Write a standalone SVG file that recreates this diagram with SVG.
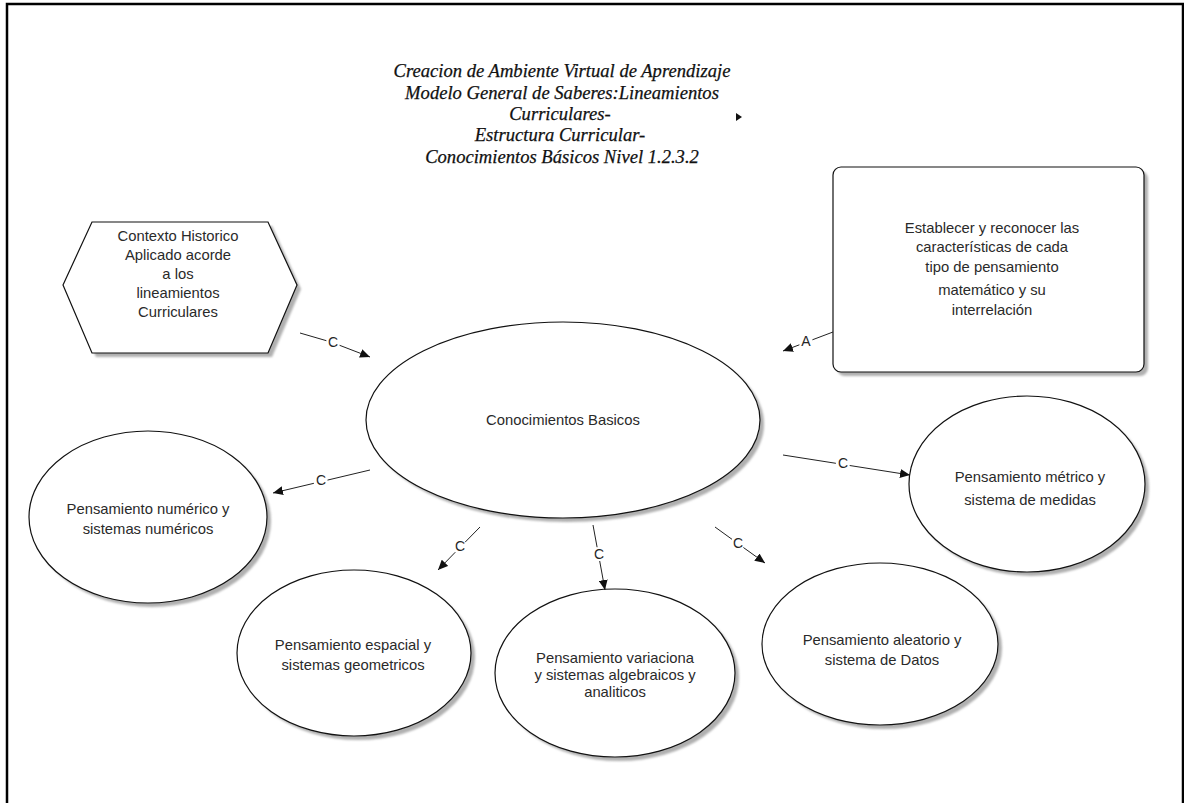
<svg xmlns="http://www.w3.org/2000/svg" width="1184" height="803" viewBox="0 0 1184 803">
  <style>
    .title { font-family: "Liberation Serif", "Times New Roman", serif; font-style: italic; font-size: 18.6px; fill: #111; stroke: #111; stroke-width: 0.25; text-anchor: middle; }
    .lbl { font-family: "Liberation Sans", Arial, sans-serif; font-size: 14.8px; fill: #2a2a2a; text-anchor: middle; }
    .clbl { font-family: "Liberation Sans", Arial, sans-serif; font-size: 14px; fill: #262626; text-anchor: middle; dominant-baseline: central; }
    .shape { fill: #ffffff; stroke: #111; stroke-width: 1.2; }
    .shadow { fill: #b0b0b0; filter: url(#soft); }
    .edge { fill: none; stroke: #222; stroke-width: 1; }
    .edge-end { fill: none; stroke: #222; stroke-width: 1; marker-end: url(#arrow); }
  </style>
  <defs>
    <filter id="soft" x="-10%" y="-10%" width="120%" height="120%">
      <feGaussianBlur stdDeviation="1.2"/>
    </filter>
    <marker id="arrow" markerUnits="userSpaceOnUse" markerWidth="11" markerHeight="9" refX="10" refY="4.5" orient="auto">
      <path d="M0,0 L10,4.5 L0,9 z" fill="#111"/>
    </marker>
  </defs>

  <rect x="0" y="0" width="1184" height="803" fill="#ffffff"/>
  <!-- page frame -->
  <rect x="7" y="4" width="1176" height="830" fill="none" stroke="#000" stroke-width="2.5"/>

  <!-- title block -->
  <g id="title">
    <text class="title" x="562" y="77">Creacion de Ambiente Virtual de Aprendizaje</text>
    <text class="title" x="562" y="99">Modelo General de Saberes:Lineamientos</text>
    <text class="title" x="560" y="120">Curriculares-</text>
    <text class="title" x="560" y="141">Estructura Curricular-</text>
    <text class="title" x="562" y="163">Conocimientos Básicos Nivel 1.2.3.2</text>
    <path d="M736,113 L742,117 L736,121 z" fill="#111"/>
  </g>

  <!-- hexagon: historical context -->
  <g id="contexto">
    <polygon class="shadow" points="96,226 272,226 301,289 272,357 96,357 67,289"/>
    <polygon class="shape" points="92,222 268,222 297,285 268,353 92,353 63,285"/>
    <text class="lbl" x="178" y="241">Contexto Historico</text>
    <text class="lbl" x="178" y="260">Aplicado acorde</text>
    <text class="lbl" x="178" y="279">a los</text>
    <text class="lbl" x="178" y="298">lineamientos</text>
    <text class="lbl" x="178" y="317">Curriculares</text>
  </g>

  <!-- rounded box: goal -->
  <g id="establecer">
    <rect class="shadow" x="837" y="171" width="311" height="205" rx="8"/>
    <rect class="shape" x="833" y="167" width="311" height="205" rx="8"/>
    <text class="lbl" x="992" y="233">Establecer y reconocer las</text>
    <text class="lbl" x="992" y="252">características de cada</text>
    <text class="lbl" x="992" y="272">tipo de pensamiento</text>
    <text class="lbl" x="992" y="295">matemático y su</text>
    <text class="lbl" x="992" y="315">interrelación</text>
  </g>

  <!-- central concept -->
  <g id="conocimientos">
    <ellipse class="shadow" cx="567" cy="424" rx="197" ry="98"/>
    <ellipse class="shape" cx="563" cy="420" rx="197" ry="98"/>
    <text class="lbl" x="563" y="425">Conocimientos Basicos</text>
  </g>

  <g id="numerico">
    <ellipse class="shadow" cx="152" cy="521" rx="119" ry="86"/>
    <ellipse class="shape" cx="148" cy="517" rx="119" ry="86"/>
    <text class="lbl" x="148" y="514">Pensamiento numérico y</text>
    <text class="lbl" x="148" y="534">sistemas numéricos</text>
  </g>

  <g id="metrico">
    <ellipse class="shadow" cx="1031" cy="488" rx="118" ry="88"/>
    <ellipse class="shape" cx="1027" cy="484" rx="118" ry="88"/>
    <text class="lbl" x="1030" y="482">Pensamiento métrico y</text>
    <text class="lbl" x="1030" y="505">sistema de medidas</text>
  </g>

  <g id="espacial">
    <ellipse class="shadow" cx="358" cy="657" rx="117" ry="83"/>
    <ellipse class="shape" cx="354" cy="653" rx="117" ry="83"/>
    <text class="lbl" x="353" y="650">Pensamiento espacial y</text>
    <text class="lbl" x="353" y="670">sistemas geometricos</text>
  </g>

  <g id="variacional">
    <ellipse class="shadow" cx="619" cy="677" rx="120" ry="84"/>
    <ellipse class="shape" cx="615" cy="673" rx="120" ry="84"/>
    <text class="lbl" x="615" y="663">Pensamiento variaciona</text>
    <text class="lbl" x="615" y="680">y sistemas algebraicos y</text>
    <text class="lbl" x="615" y="697">analiticos</text>
  </g>

  <g id="aleatorio">
    <ellipse class="shadow" cx="884" cy="648" rx="118" ry="81"/>
    <ellipse class="shape" cx="880" cy="644" rx="118" ry="81"/>
    <text class="lbl" x="882" y="645">Pensamiento aleatorio y</text>
    <text class="lbl" x="882" y="665">sistema de Datos</text>
  </g>

  <!-- labelled connectors -->
  <g id="connectors">
    <line class="edge" x1="300" y1="333" x2="326.4" y2="340.7"/>
    <line class="edge-end" x1="339.6" y1="345.3" x2="370" y2="357"/>
    <text class="clbl" x="333" y="342">C</text>

    <line class="edge" x1="833" y1="332" x2="812.4" y2="339.8"/>
    <line class="edge-end" x1="799.4" y1="344.8" x2="783" y2="351"/>
    <text class="clbl" x="806" y="341">A</text>

    <line class="edge" x1="370" y1="470" x2="327.5" y2="480.1"/>
    <line class="edge-end" x1="313.9" y1="483.3" x2="273" y2="493"/>
    <text class="clbl" x="321" y="480">C</text>

    <line class="edge" x1="480" y1="527" x2="465.1" y2="542.2"/>
    <line class="edge-end" x1="455.3" y1="552.2" x2="438" y2="570"/>
    <text class="clbl" x="460" y="546">C</text>

    <line class="edge" x1="593" y1="525" x2="597.1" y2="547.2"/>
    <line class="edge-end" x1="599.7" y1="561" x2="605" y2="590"/>
    <text class="clbl" x="599" y="554">C</text>

    <line class="edge" x1="715" y1="527" x2="732" y2="539.3"/>
    <line class="edge-end" x1="743.4" y1="547.5" x2="765" y2="563"/>
    <text class="clbl" x="738" y="543">C</text>

    <line class="edge" x1="783" y1="455" x2="835.9" y2="463.3"/>
    <line class="edge-end" x1="849.7" y1="465.5" x2="910" y2="475"/>
    <text class="clbl" x="843" y="463">C</text>
  </g>
</svg>
